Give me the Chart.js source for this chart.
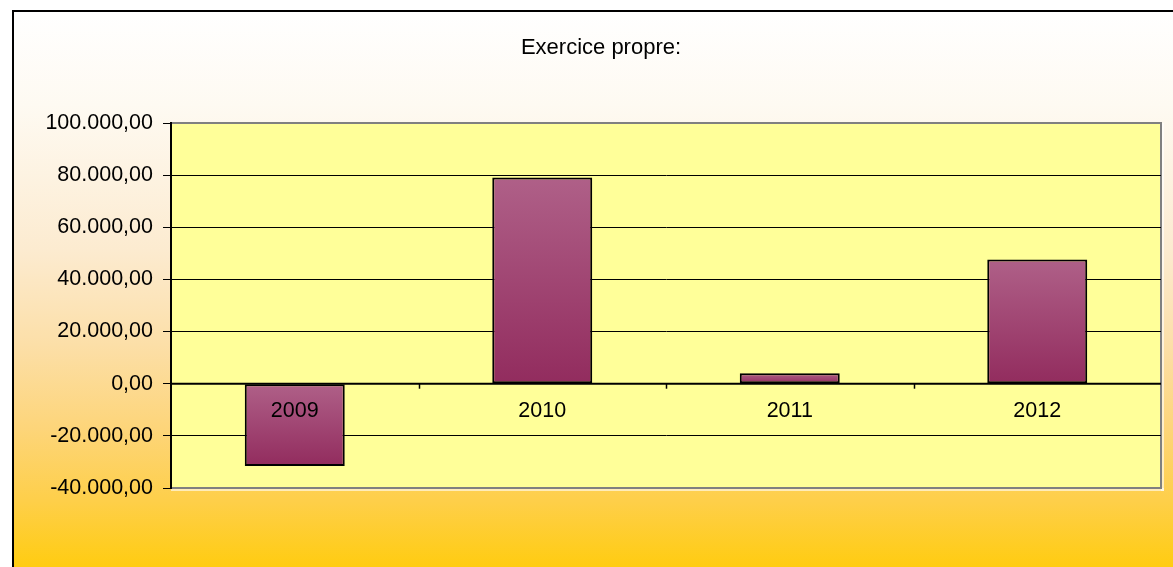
<!DOCTYPE html>
<html>
<head>
<meta charset="utf-8">
<script src="https://cdn.jsdelivr.net/npm/chart.js@4/dist/chart.umd.min.js"></script>
<style>
  html, body { margin: 0; padding: 0; background: #ffffff; }
  #wrap { width: 1173px; height: 567px; position: relative; }
  canvas { display: block; }
</style>
</head>
<body>
<div id="wrap"><canvas id="c" width="1173" height="567"></canvas></div>
<script>
const chartTitle = "Exercice propre:";
const categories = ["2009", "2010", "2011", "2012"];
const values = [-31600, 79100, 4000, 47600];
const yMin = -40000;
const yMax = 100000;
const yStep = 20000;

const fmt = new Intl.NumberFormat('de-DE', { minimumFractionDigits: 2, maximumFractionDigits: 2 });
const FONT = "'Liberation Sans', Arial, sans-serif";

const decorPlugin = {
  id: 'decor',
  beforeDraw(chart) {
    const ctx = chart.ctx;
    const W = chart.width, H = chart.height;
    ctx.save();
    ctx.fillStyle = '#ffffff';
    ctx.fillRect(0, 0, W, H);
    const g = ctx.createLinearGradient(0, 10, 0, 567);
    g.addColorStop(0, '#FFFFFF');
    g.addColorStop(0.17, '#FEFAF2');
    g.addColorStop(0.43, '#FCEBD0');
    g.addColorStop(0.6, '#FCDFA8');
    g.addColorStop(0.75, '#FDD57A');
    g.addColorStop(0.88, '#FECF4A');
    g.addColorStop(1, '#FFCC11');
    ctx.fillStyle = g;
    ctx.fillRect(12, 10, W, H);
    ctx.strokeStyle = '#000000';
    ctx.lineWidth = 2;
    ctx.strokeRect(13, 11, W + 20, H + 20);
    // plot area
    const a = chart.chartArea;
    ctx.fillStyle = 'rgba(255,255,255,0.6)';
    ctx.fillRect(a.left, a.bottom, a.right - a.left + 3, 3);
    ctx.fillRect(a.right, a.top, 3, a.bottom - a.top + 3);
    ctx.fillStyle = '#FFFF99';
    ctx.fillRect(a.left, a.top, a.right - a.left, a.bottom - a.top);
    ctx.strokeStyle = '#808080';
    ctx.lineWidth = 2;
    ctx.beginPath();
    ctx.moveTo(a.left, a.top);
    ctx.lineTo(a.right, a.top);
    ctx.lineTo(a.right, a.bottom);
    ctx.lineTo(a.left, a.bottom);
    ctx.stroke();
    // title
    ctx.fillStyle = '#000000';
    ctx.font = '22px ' + FONT;
    ctx.textAlign = 'center';
    ctx.textBaseline = 'middle';
    ctx.fillText(chartTitle, 601, 48);
    ctx.restore();
  },
  afterDatasetsDraw(chart) {
    const ctx = chart.ctx;
    const a = chart.chartArea;
    const ys = chart.scales.y, xs = chart.scales.x;
    const y0 = ys.getPixelForValue(0);
    ctx.save();
    ctx.strokeStyle = '#000000';
    ctx.lineWidth = 2;
    ctx.beginPath();
    ctx.moveTo(a.left, y0);
    ctx.lineTo(a.right, y0);
    ctx.stroke();
    ctx.lineWidth = 1.5;
    const n = categories.length;
    for (let i = 1; i < n; i++) {
      const x = Math.round((xs.getPixelForValue(i - 1) + xs.getPixelForValue(i)) / 2) + 0.5;
      ctx.beginPath();
      ctx.moveTo(x, y0);
      ctx.lineTo(x, y0 + 5);
      ctx.stroke();
    }
    ctx.fillStyle = '#000000';
    ctx.font = '21.5px ' + FONT;
    ctx.textAlign = 'center';
    ctx.textBaseline = 'middle';
    categories.forEach((c, i) => {
      ctx.fillText(c, xs.getPixelForValue(i), y0 + 27);
    });
    ctx.restore();
  }
};

function barGradient(context) {
  const chart = context.chart;
  const ys = chart.scales && chart.scales.y;
  const v = context.raw;
  if (!ys || typeof v !== 'number' || !chart.chartArea) return '#A04570';
  const top = ys.getPixelForValue(Math.max(v, 0));
  const bot = ys.getPixelForValue(Math.min(v, 0));
  if (!isFinite(top) || !isFinite(bot) || top === bot) return '#A04570';
  const g = chart.ctx.createLinearGradient(0, top, 0, bot);
  g.addColorStop(0, '#AF6088');
  g.addColorStop(1, '#922C5E');
  return g;
}

new Chart(document.getElementById('c'), {
  type: 'bar',
  data: {
    labels: categories,
    datasets: [{
      data: values,
      backgroundColor: barGradient,
      borderColor: '#000000',
      borderWidth: 2,
      borderSkipped: false,
      categoryPercentage: 1.0,
      barPercentage: 0.404
    }]
  },
  plugins: [decorPlugin],
  options: {
    responsive: false,
    animation: false,
    devicePixelRatio: 1,
    layout: { padding: { left: 0, right: 12, top: 123, bottom: 79 } },
    plugins: { legend: { display: false }, title: { display: false }, tooltip: { enabled: false } },
    scales: {
      x: { display: false },
      y: {
        min: yMin,
        max: yMax,
        afterFit(scale) { scale.width = 171; },
        ticks: {
          stepSize: yStep,
          padding: 10,
          color: '#000000',
          font: { size: 21.5, family: FONT },
          callback: (v) => fmt.format(v)
        },
        grid: {
          color: (ctx) => (ctx.tick && (ctx.tick.value === yMax || ctx.tick.value === yMin)) ? 'rgba(0,0,0,0)' : '#000000',
          tickColor: '#000000',
          lineWidth: 1,
          tickLength: 8
        },
        border: { display: true, color: '#000000', width: 2 }
      }
    }
  }
});
</script>
</body>
</html>
